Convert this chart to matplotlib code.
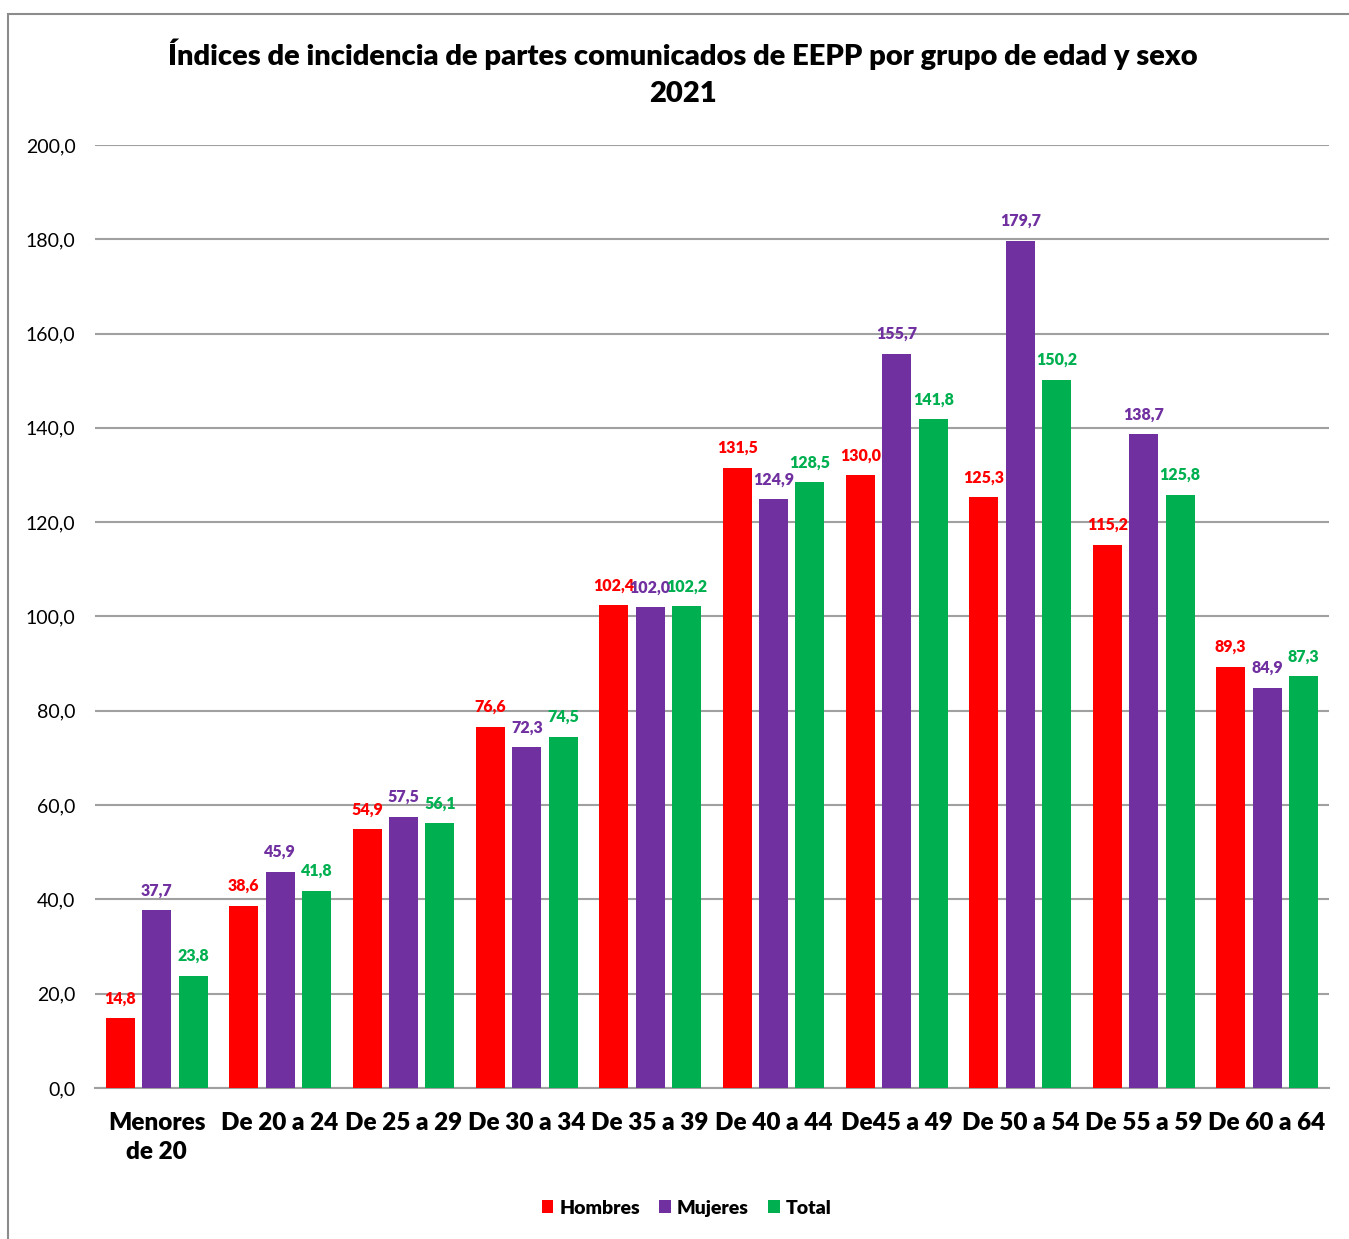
import matplotlib.pyplot as plt
import numpy as np
from matplotlib.patches import Rectangle

plt.rcParams['font.family'] = ['Lato', 'DejaVu Sans']

# Datos: índices de incidencia por grupo de edad y sexo (2021)
grupos = ['Menores\nde 20', 'De 20 a 24', 'De 25 a 29', 'De 30 a 34', 'De 35 a 39',
          'De 40 a 44', 'De45 a 49', 'De 50 a 54', 'De 55 a 59', 'De 60 a 64']
hombres = [14.8, 38.6, 54.9, 76.6, 102.4, 131.5, 130.0, 125.3, 115.2, 89.3]
mujeres = [37.7, 45.9, 57.5, 72.3, 102.0, 124.9, 155.7, 179.7, 138.7, 84.9]
total = [23.8, 41.8, 56.1, 74.5, 102.2, 128.5, 141.8, 150.2, 125.8, 87.3]

series = [('Hombres', hombres, '#ff0000'),
          ('Mujeres', mujeres, '#7030a0'),
          ('Total', total, '#00b050')]

fig = plt.figure(figsize=(13.49, 12.39), dpi=100)
ax = fig.add_axes([0.0704, 0.1219, 0.9146, 0.7611])

x = np.arange(len(grupos))
ancho = 0.235
paso = 0.295

for i, (nombre, vals, color) in enumerate(series):
    pos = x + (i - 1) * paso
    ax.bar(pos, vals, width=ancho, color=color, label=nombre, zorder=3)
    for p, v in zip(pos, vals):
        ax.text(p, v + 2.5, f'{v:.1f}'.replace('.', ','), ha='center', va='bottom',
                fontsize=11.5, fontweight='heavy', color=color, zorder=4)

ax.set_ylim(0, 200)
ax.set_xlim(-0.5, len(grupos) - 0.5)
ax.set_yticks(np.arange(0, 201, 20))
ax.set_yticklabels([f'{t:.1f}'.replace('.', ',') for t in np.arange(0, 201, 20)], fontsize=14)
ax.set_xticks(x)
ax.set_xticklabels(grupos, fontsize=17.5, fontweight='heavy', linespacing=1.4)
ax.tick_params(axis='both', length=0)
ax.tick_params(axis='y', pad=14)
ax.tick_params(axis='x', pad=17)
ax.grid(axis='y', color='#a0a0a0', linewidth=1.5, zorder=0)
for s in ['top', 'right', 'left']:
    ax.spines[s].set_visible(False)
ax.spines['bottom'].set_color('#a0a0a0')
ax.spines['bottom'].set_linewidth(1.5)

fig.text(0.506, 0.956, 'Índices de incidencia de partes comunicados de EEPP por grupo de edad y sexo',
         ha='center', va='center', fontsize=21, fontweight='heavy')
fig.text(0.506, 0.924, '2021', ha='center', va='center', fontsize=21, fontweight='heavy')

ax.legend(loc='center', bbox_to_anchor=(0.509, 0.025), bbox_transform=fig.transFigure,
          ncol=3, frameon=False, handlelength=0.6, handleheight=0.6,
          handletextpad=0.3, columnspacing=1.0, prop={'weight': 'heavy', 'size': 14})

# marco exterior del gráfico
fig.patches.append(Rectangle((8 / 1349, -0.01), 1.1, 1 - 14 / 1239 + 0.01, transform=fig.transFigure,
                             fill=False, edgecolor='#8c8c8c', linewidth=1.5))

fig.savefig('out.png', dpi=100)
